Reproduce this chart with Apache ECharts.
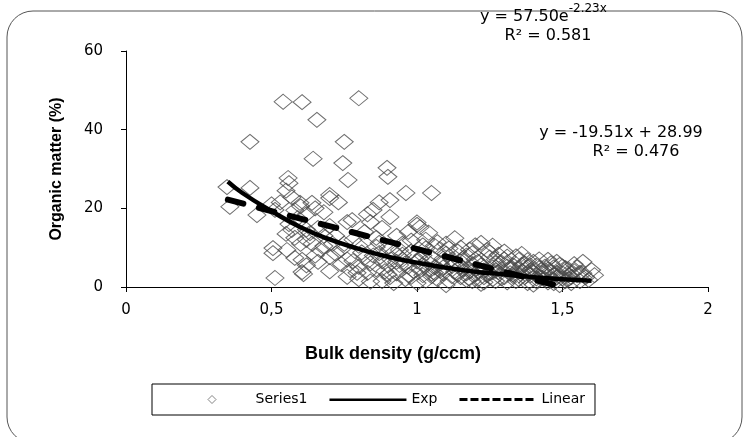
<!DOCTYPE html>
<html>
<head>
<meta charset="UTF-8">
<title>Organic matter vs bulk density</title>
<script src="https://cdn.jsdelivr.net/npm/echarts@6/dist/echarts.min.js"></script>
<style>
  html, body { margin: 0; padding: 0; background: #fff; }
</style>
</head>
<body>
<div id="main" style="width:743px;height:437px;"></div>
<script>
// soil samples
var bulkDensity = [
  0.54, 0.605, 0.80, 0.656, 0.426, 0.75, 0.643, 0.745, 0.763, 0.897, 0.90, 0.347, 0.426, 0.557, 0.56,
  0.962, 1.05, 0.70, 0.70, 0.357, 0.45, 0.512, 0.598, 0.639, 0.907, 0.907, 0.849, 0.777, 0.55, 0.58,
  0.60, 0.62, 0.65, 0.50, 0.87, 0.83, 0.73, 0.68, 0.53, 0.57, 0.59, 0.56,
  1.00, 1.01, 1.00, 1.13, 1.22, 0.57, 0.632, 0.76, 0.62, 0.68, 0.66, 0.72, 0.78, 0.82, 0.86, 0.88,
  0.93, 0.95, 0.97, 1.03, 1.06, 1.10, 1.15, 1.18, 1.26, 1.30, 0.75, 0.80, 0.90, 0.84, 0.70, 0.64,
  0.505, 0.505, 0.553, 0.70, 0.667, 0.72, 0.76, 0.80, 0.85, 0.88, 0.92, 0.95, 0.98, 1.00, 1.02, 1.05,
  1.08, 1.10, 1.12, 1.15, 1.17, 1.20, 1.22, 1.25, 1.27, 1.31, 1.33, 1.35, 1.38, 1.40, 1.42, 1.45,
  1.47, 1.49, 1.52, 1.57, 1.55, 0.605, 0.62, 0.90, 0.97, 1.06,
  0.512, 0.605, 0.61, 0.83, 0.907, 0.80, 0.77, 0.794, 0.70, 0.86, 0.88, 0.93, 0.96, 0.99, 1.00, 1.02,
  1.04, 1.07, 1.09, 1.11, 1.13, 1.15, 1.17, 1.19, 1.21, 1.23, 1.25, 1.27, 1.29, 1.30, 1.32, 1.34,
  1.36, 1.37, 1.39, 1.41, 1.43, 1.44, 1.46, 1.48, 1.49, 1.50, 1.51, 1.53, 1.55, 1.56, 1.58, 1.60,
  1.57, 1.52, 1.61, 1.47, 1.38, 1.22, 1.10,
  0.96, 1.01, 1.04, 1.08, 1.12, 1.16, 1.19, 1.23, 1.26, 1.29, 1.32, 1.36, 1.40, 1.44, 1.48, 1.34,
  1.28, 1.14, 1.08, 0.94, 0.86, 0.82, 0.74, 0.66, 0.58, 0.90, 1.05, 1.18, 1.31, 1.42, 1.53, 1.46,
  1.38, 1.24, 1.20, 0.98, 1.04,
  1.02, 1.06, 1.09, 1.13, 1.16, 1.18, 1.21, 1.24, 1.27, 1.28, 1.31, 1.33, 1.35, 1.37, 1.39, 1.41,
  1.43, 1.45, 1.47, 1.50, 1.52, 1.54, 1.56, 1.59, 1.54, 1.48, 1.42, 1.36, 1.30, 1.25, 1.19, 1.11,
  1.07, 1.02, 0.99, 0.94, 0.91, 0.87, 0.84, 0.81, 0.78, 0.74, 0.71, 0.68, 0.65, 0.62, 0.60, 0.58,
  0.55, 0.76, 0.84, 0.92, 0.98, 1.03, 1.12, 1.20, 1.26, 1.35, 1.40, 1.45,
  1.14, 1.17, 1.20, 1.23, 1.26, 1.29, 1.32, 1.35, 1.38, 1.41, 1.44, 1.47, 1.50, 1.53, 1.15, 1.21,
  1.27, 1.33, 1.39, 1.45, 1.51, 0.89, 0.93, 0.97, 1.01, 1.05, 1.09, 0.87, 0.95, 1.03
];
var organicMatter = [
  47.1, 47.0, 48.0, 42.5, 36.9, 36.9, 32.6, 31.5, 27.2, 30.3, 28.0, 25.4, 25.2, 27.7, 26.4,
  23.9, 23.9, 23.4, 22.6, 20.4, 18.3, 19.6, 21.4, 21.4, 22.1, 17.8, 19.6, 17.0, 24.5, 19.5,
  20.5, 18.5, 20.0, 21.0, 21.5, 18.5, 21.5, 19.0, 21.5, 22.8, 17.5, 16.0,
  15.8, 15.2, 16.4, 12.4, 11.2, 14.5, 13.7, 16.5, 12.0, 10.4, 15.0, 13.0, 12.0, 14.0, 12.5, 15.0,
  13.0, 11.0, 14.0, 12.0, 10.5, 11.0, 10.0, 9.5, 10.5, 9.0, 11.0, 10.5, 10.0, 16.5, 15.5, 11.0,
  9.9, 8.6, 9.4, 7.6, 9.4, 8.5, 7.0, 5.1, 8.0, 6.5, 8.8, 7.0, 9.0, 6.5, 8.0, 7.5,
  6.0, 8.5, 7.0, 6.5, 8.0, 7.0, 5.5, 7.5, 6.0, 7.7, 5.5, 6.9, 5.0, 6.4, 4.8, 6.9,
  5.0, 5.6, 4.5, 6.4, 5.0, 6.9, 5.5, 5.5, 5.2, 5.0,
  2.3, 3.8, 3.3, 3.6, 2.5, 2.0, 4.3, 3.6, 4.0, 4.5, 1.5, 3.5, 2.0, 4.0, 1.0, 3.0,
  4.5, 2.0, 3.5, 1.5, 4.0, 2.5, 3.5, 1.5, 4.0, 2.5, 3.5, 1.5, 4.5, 2.5, 3.5, 1.5,
  4.0, 2.5, 3.0, 1.5, 3.5, 2.0, 4.0, 2.5, 0.5, 3.5, 1.5, 2.5, 3.0, 1.5, 2.5, 4.3,
  3.5, 3.0, 3.0, 1.0, 1.0, 0.8, 0.5,
  6.0, 4.8, 6.2, 4.2, 5.4, 4.6, 5.8, 4.2, 5.0, 6.2, 4.4, 5.6, 3.8, 5.2, 3.6, 7.8,
  8.2, 9.0, 9.6, 9.4, 10.2, 7.4, 5.8, 6.4, 7.4, 3.2, 2.8, 2.2, 1.2, 2.6, 1.0, 6.0,
  6.8, 9.4, 10.6, 11.8, 13.8,
  5.6, 3.6, 7.2, 5.8, 7.4, 4.0, 6.4, 3.0, 7.0, 3.8, 5.2, 2.8, 4.6, 6.0, 4.2, 5.4,
  2.4, 4.4, 3.0, 5.2, 2.0, 4.0, 3.6, 1.8, 5.8, 6.4, 7.0, 8.4, 7.0, 8.8, 8.6, 9.8,
  11.4, 10.6, 7.6, 5.6, 7.0, 8.6, 6.0, 8.8, 6.6, 9.6, 11.0, 13.0, 8.0, 14.6, 11.0, 12.5,
  13.5, 2.6, 1.4, 1.0, 2.6, 1.6, 2.8, 3.2, 2.0, 3.0, 0.6, 1.2,
  3.2, 1.8, 4.6, 1.2, 3.8, 2.2, 4.8, 2.0, 3.6, 2.2, 4.2, 1.8, 2.2, 3.4, 5.2, 2.0,
  4.2, 3.2, 5.4, 2.8, 4.8, 4.0, 6.4, 3.0, 7.2, 3.4, 5.0, 11.2, 8.2, 9.8
];

// trend lines as drawn on the plot
var expX = [0.35, 0.4, 0.5, 0.6, 0.7, 0.8, 0.9, 1.0, 1.1, 1.2, 1.3, 1.4, 1.5, 1.6];
var expY = [26.8, 23.9, 19.3, 15.2, 12.1, 9.7, 7.7, 6.2, 4.9, 3.9, 3.2, 2.5, 2.0, 1.6];
var linX = [0.35, 1.5];
var linY = [22.2, 0.0];

var xTicks = { 0: '0', 0.5: '0,5', 1: '1', 1.5: '1,5', 2: '2' };

function zip(a, b) {
  var out = [];
  for (var i = 0; i < a.length; i++) out.push([a[i], b[i]]);
  return out;
}

var font = 'DejaVu Sans';
// dashed stroke for the legend key, drawn inside a 77x14 box
var dashIcon = 'path://M0 0M77 14';
for (var d = 0; d < 7; d++) {
  var x0 = d * 11;
  dashIcon += 'M' + x0 + ' 5.5L' + (x0 + 8) + ' 5.5L' + (x0 + 8) + ' 8.5L' + x0 + ' 8.5Z';
}

var myChart = echarts.init(document.getElementById('main'));

myChart.setOption({
  backgroundColor: '#fff',
  animation: false,
  grid: { left: 126, right: 35, top: 51, bottom: 150 },
  xAxis: {
    type: 'value', min: 0, max: 2, interval: 0.5,
    name: 'Bulk density (g/ccm)',
    nameLocation: 'middle', nameGap: 58, nameMoveOverlap: false,
    nameTextStyle: { fontFamily: 'Liberation Sans', fontWeight: 'bold', fontSize: 18, color: '#000',
                     padding: [0, 48, 0, 0] },
    axisLine: { lineStyle: { color: '#000', width: 1 } },
    axisTick: { show: true, length: 5, lineStyle: { color: '#000' } },
    axisLabel: {
      margin: 16, fontFamily: font, fontSize: 15, color: '#000',
      formatter: function (v) { return xTicks[v] !== undefined ? xTicks[v] : ''; }
    },
    splitLine: { show: false }
  },
  yAxis: {
    type: 'value', min: 0, max: 60, interval: 20,
    name: 'Organic matter (%)',
    nameLocation: 'middle', nameGap: 61, nameRotate: 90, nameMoveOverlap: false,
    nameTextStyle: { fontFamily: 'Liberation Sans', fontWeight: 'bold', fontSize: 16, color: '#000' },
    axisLine: { show: true, lineStyle: { color: '#000', width: 1 } },
    axisTick: { show: true, length: 5, lineStyle: { color: '#000' } },
    axisLabel: { margin: 23, fontFamily: font, fontSize: 15, color: '#000' },
    splitLine: { show: false }
  },
  legend: {
    left: 152, top: 384,
    padding: [8, 10, 8, 21],
    borderColor: '#000', borderWidth: 1,
    itemWidth: 77, itemHeight: 14, itemGap: 22,
    textStyle: { fontFamily: font, fontSize: 14, color: '#000' },
    data: [
      { name: 'Series1', icon: 'path://M0 0M77 14M34.5 7L38.5 3L42.5 7L38.5 11Z',
        itemStyle: { color: '#fff', borderColor: '#666', borderWidth: 1 } },
      { name: 'Exp', icon: 'path://M0 0M77 14M0 6L77 6L77 8.5L0 8.5Z',
        itemStyle: { color: '#000', borderWidth: 0 } },
      { name: 'Linear', icon: dashIcon, itemStyle: { color: '#000', borderWidth: 0 } }
    ]
  },
  graphic: [
    {
      type: 'rect', silent: true, z: -1,
      shape: { x: 7, y: 11, width: 735, height: 432, r: 26 },
      style: { fill: 'none', stroke: '#555', lineWidth: 1 }
    },
    {
      type: 'text', left: 480, top: 3,
      style: {
        text: '{a|y = 57.50e}{b|-2.23x}',
        rich: {
          a: { fontFamily: font, fontSize: 16, fill: '#000', lineHeight: 22, verticalAlign: 'bottom' },
          b: { fontFamily: font, fontSize: 12, fill: '#000', lineHeight: 22, verticalAlign: 'top' }
        }
      }
    },
    {
      type: 'text', x: 548, y: 36,
      style: { text: 'R² = 0.581', fontFamily: font, fontSize: 16, fill: '#000',
               align: 'center', verticalAlign: 'middle' }
    },
    {
      type: 'text', x: 621, y: 133,
      style: { text: 'y = -19.51x + 28.99', fontFamily: font, fontSize: 16, fill: '#000',
               align: 'center', verticalAlign: 'middle' }
    },
    {
      type: 'text', x: 636, y: 152,
      style: { text: 'R² = 0.476', fontFamily: font, fontSize: 16, fill: '#000',
               align: 'center', verticalAlign: 'middle' }
    }
  ],
  series: [
    {
      name: 'Series1', type: 'scatter',
      symbol: 'diamond', symbolSize: [18, 15],
      itemStyle: { color: 'rgba(0,0,0,0)', borderColor: '#4a4a4a', borderWidth: 1 },
      data: zip(bulkDensity, organicMatter),
      z: 2
    },
    {
      name: 'Exp', type: 'line', showSymbol: false, smooth: true,
      lineStyle: { color: '#000', width: 4.5 },
      itemStyle: { color: '#000' },
      data: zip(expX, expY),
      z: 3
    },
    {
      name: 'Linear', type: 'line', showSymbol: false,
      lineStyle: { color: '#000', width: 6, type: [16, 16], cap: 'round' },
      itemStyle: { color: '#000' },
      data: zip(linX, linY),
      z: 3
    }
  ]
});
</script>
</body>
</html>
